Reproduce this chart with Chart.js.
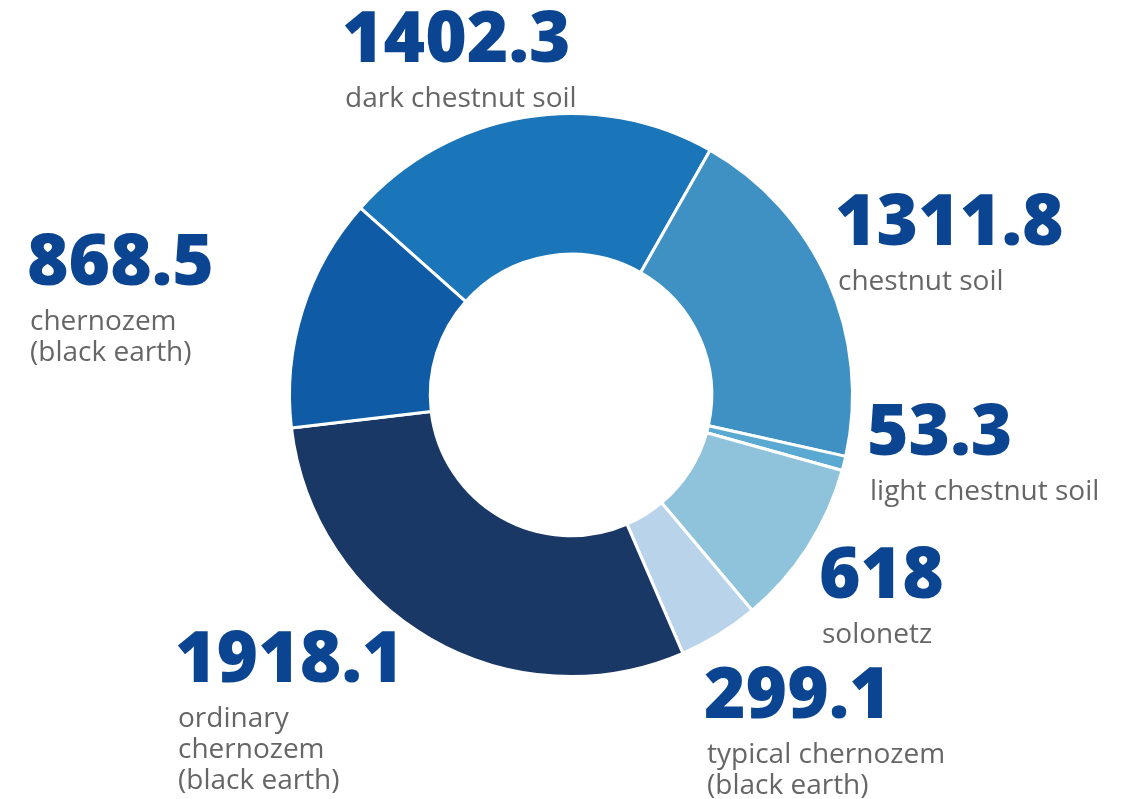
<!DOCTYPE html>
<html>
<head>
<meta charset="utf-8">
<script src="https://cdn.jsdelivr.net/npm/chart.js@4.4.1/dist/chart.umd.min.js"></script>
<style>
  html, body { margin: 0; padding: 0; background: #fff; }
  #wrap { width: 1131px; height: 799px; position: relative; }
</style>
</head>
<body>
<div id="wrap"><canvas id="soils"></canvas></div>
<script>
// Soil types, clockwise from the top-left
const soilNames = [
    ["dark chestnut soil"],
    ["chestnut soil"],
    ["light chestnut soil"],
    ["solonetz"],
    ["typical chernozem", "(black earth)"],
    ["ordinary", "chernozem", "(black earth)"],
    ["chernozem", "(black earth)"],
];

// Area of each soil type
const soilArea = [1402.3, 1311.8, 53.3, 618, 299.1, 1918.1, 868.5];

// Slice colours
const sliceColors = [
    "#1b75b9",
    "#3f91c3",
    "#5aa9d2",
    "#8ec3db",
    "#b9d4ea",
    "#193865",
    "#0f5ba5",
];

// Where each label block starts (left edge, baseline of the big number),
// in the same order as soilArea
const labelSpots = [
    [345, 62],
    [838, 245],
    [870, 455],
    [822, 598],
    [707, 718],
    [178, 682],
    [30, 285],
];

const calloutPlugin = {
    id: "callouts",
    afterDraw(chart) {
        const ctx = chart.ctx;
        ctx.save();
        ctx.textAlign = "left";
        ctx.textBaseline = "alphabetic";
        soilArea.forEach((v, idx) => {
            const [x, y] = labelSpots[idx];
            ctx.fillStyle = "#0b4592";
            ctx.font = "800 71px 'Open Sans'";
            ctx.fillText(String(v), x - 3, y);
            ctx.fillStyle = "#666666";
            ctx.font = "400 28px 'Open Sans'";
            soilNames[idx].forEach((line, j) => {
                ctx.fillText(line, x, y + 45 + j * 31);
            });
        });
        ctx.restore();
    },
};

new Chart(document.getElementById("soils"), {
    type: "doughnut",
    plugins: [calloutPlugin],
    data: {
        labels: soilNames.map((n) => n.join(" ")),
        datasets: [
            {
                data: soilArea,
                backgroundColor: sliceColors,
                borderColor: "#ffffff",
                borderWidth: 3,
            },
        ],
    },
    options: {
        responsive: true,
        maintainAspectRatio: false,
        animation: false,
        rotation: -48.4,
        cutout: "50%",
        layout: {
            padding: { top: 112, bottom: 121, left: 288, right: 277 },
        },
        plugins: {
            legend: { display: false },
            tooltip: { enabled: false },
        },
    },
});
</script>
</body>
</html>
